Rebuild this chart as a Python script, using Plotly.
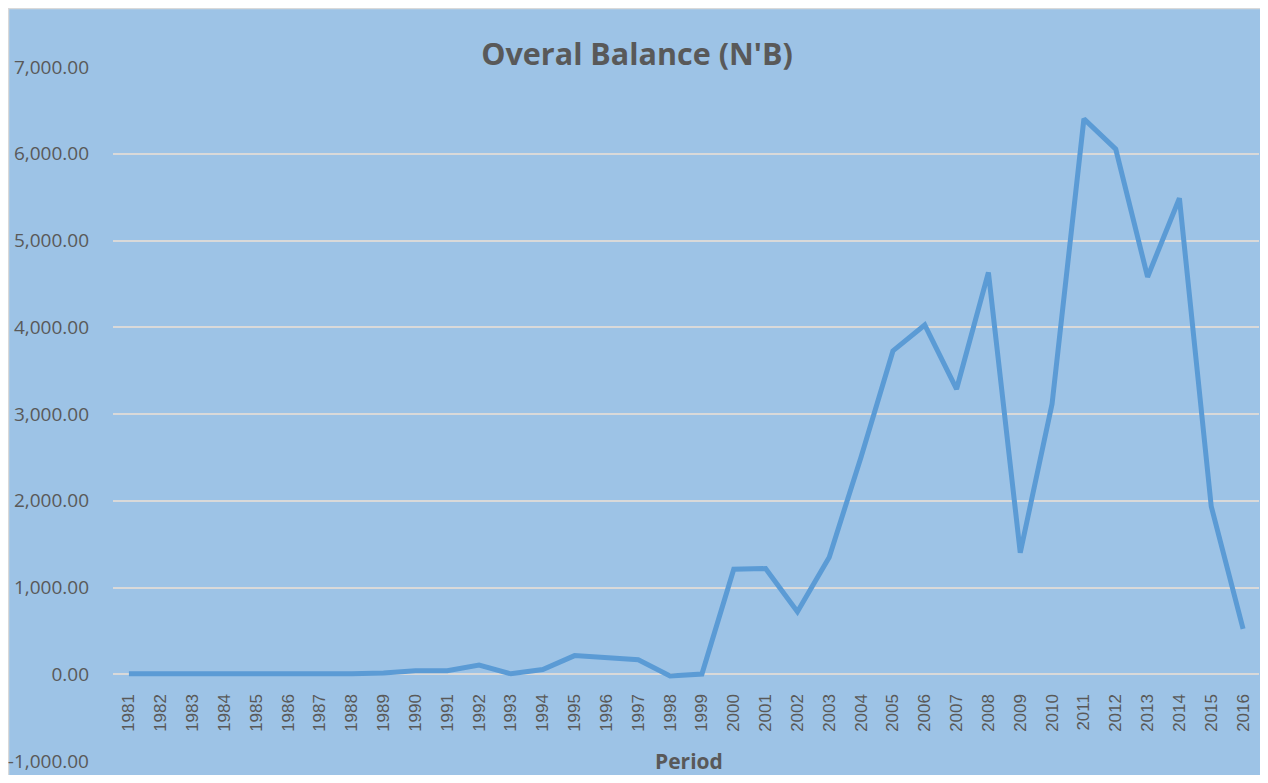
import plotly.graph_objects as go

years = [str(y) for y in range(1981, 2017)]
overall_balance = [
    5, 4, 4, 4, 6, 3, 6, 5, 15, 40, 40, 105, 5, 55, 215, 192, 168, -20, 3,
    1210, 1218, 720, 1350, 2505, 3727, 4026, 3288, 4632, 1401, 3117,
    6402, 6053, 4580, 5487, 1935, 524,
]
y_tick_vals = [-1000, 0, 1000, 2000, 3000, 4000, 5000, 6000, 7000]
y_tick_text = ["-1,000.00", "0.00", "1,000.00", "2,000.00", "3,000.00",
               "4,000.00", "5,000.00", "6,000.00", "7,000.00"]

BG = "#9DC3E6"
LINE = "#5B9BD5"
GRID = "#D9D9D9"
TEXT = "#595959"

fig = go.Figure()
fig.add_trace(go.Scatter(
    x=years, y=overall_balance, mode="lines",
    line=dict(color=LINE, width=5),
    hoverinfo="skip", showlegend=False,
))

# page has an 8px body margin; figure pixels = page pixels - 8
W, H = 1252, 767
L, R, T, B = 105, 1, 59, 14
pw = W - L - R
ph = H - T - B

def px_x(p):
    return (p - L) / pw

def px_y(p):
    return (H - B - p) / ph

fig.add_shape(type="rect", xref="paper", yref="paper",
              x0=px_x(0.5), x1=px_x(W + 5), y0=px_y(H + 5), y1=px_y(0.5),
              fillcolor="rgba(0,0,0,0)", line=dict(color=GRID, width=1.5),
              layer="below")

fig.update_layout(
    width=W, height=H,
    margin=dict(l=L, r=R, t=T, b=B, pad=0, autoexpand=False),
    paper_bgcolor=BG,
    plot_bgcolor=BG,
    font=dict(family="Open Sans", color=TEXT),
    title=dict(text="<b>Overal Balance (N'B)</b>", xref="container", x=629 / W,
               xanchor="center", yref="container", y=1 - 46 / H, yanchor="middle",
               font=dict(family="Open Sans", size=30.5, color=TEXT)),
    annotations=[dict(text="<b>Period</b>", xref="paper", yref="paper",
                      x=px_x(681), y=0, xanchor="center", yanchor="middle",
                      showarrow=False,
                      font=dict(family="Open Sans", size=21, color=TEXT))],
)

fig.update_xaxes(
    type="category",
    anchor="free", position=1000 / 8000,
    tickangle=-90, automargin=False,
    showgrid=False, showline=False, zeroline=False,
    ticks="outside", ticklen=12, tickcolor="rgba(0,0,0,0)",
    tickfont=dict(family="Liberation Sans", size=17, color=TEXT),
    range=[-0.5, len(years) - 0.5],
)
fig.update_yaxes(
    range=[-1000, 7000], automargin=False,
    tickvals=y_tick_vals, ticktext=y_tick_text,
    showgrid=True, gridcolor=GRID, gridwidth=1.5,
    zeroline=True, zerolinecolor=GRID, zerolinewidth=1.5,
    showline=False,
    ticks="", ticklabelstandoff=23, ticklabeloverflow="allow",
    tickfont=dict(family="Open Sans", size=19, color=TEXT),
)

fig.write_html("out.html")
